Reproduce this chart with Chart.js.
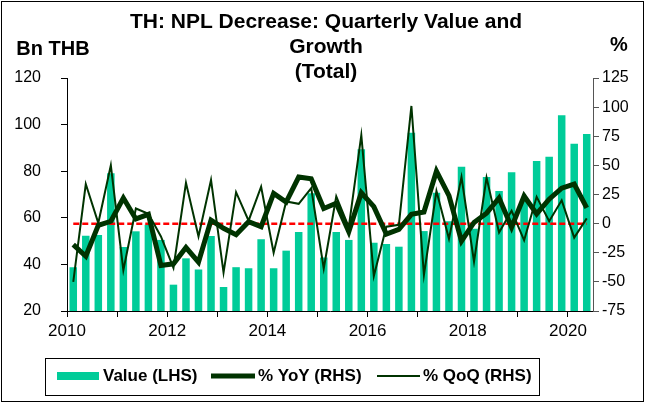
<!DOCTYPE html>
<html>
<head>
<meta charset="utf-8">
<script src="https://cdn.jsdelivr.net/npm/chart.js@4.4.1/dist/chart.umd.min.js"></script>
<style>
  html, body { margin: 0; padding: 0; background: #fff; }
  #wrap { width: 646px; height: 404px; }
</style>
</head>
<body>
<div id="wrap"><canvas id="chart" width="646" height="404"></canvas></div>
<script>
// quarterly data, 2010Q1 - 2020Q2
const quarters = [
  "2010Q1", "2010Q2", "2010Q3", "2010Q4", "2011Q1", "2011Q2", "2011Q3", "2011Q4",
  "2012Q1", "2012Q2", "2012Q3", "2012Q4", "2013Q1", "2013Q2", "2013Q3", "2013Q4",
  "2014Q1", "2014Q2", "2014Q3", "2014Q4", "2015Q1", "2015Q2", "2015Q3", "2015Q4",
  "2016Q1", "2016Q2", "2016Q3", "2016Q4", "2017Q1", "2017Q2", "2017Q3", "2017Q4",
  "2018Q1", "2018Q2", "2018Q3", "2018Q4", "2019Q1", "2019Q2", "2019Q3", "2019Q4",
  "2020Q1", "2020Q2"
];
const valueBn = [
  38.8, 52.3, 52.6, 79.1, 47.5, 54.2, 57.0, 50.5,
  31.3, 42.6, 37.8, 52.2, 30.3, 38.8, 38.3, 50.8,
  38.3, 45.9, 53.9, 70.5, 43.0, 53.9, 50.5, 89.4,
  49.3, 48.8, 47.6, 96.5, 54.3, 70.8, 58.5, 81.9,
  55.3, 77.5, 71.5, 79.5, 68.0, 84.4, 86.2, 104.0,
  91.8, 96.0
];
const yoyPct = [
  -18, -28, -1.5, 2, 22, 4, 8, -36,
  -34.5, -20.5, -33, 3, -4, -9.5, 1.7, -2.6,
  26, 18.5, 40, 38.5, 13, 17.5, -7, 26.5,
  14.6, -9, -5, 8, 10, 45, 24, -15,
  1, 9, 22, -3, 23.7, 8.3, 21, 30.5,
  34, 13.5
];
const qoqPct = [
  -50, 34, 0.5, 50, -40, 13, 8.5, -11,
  -38, 35, -11, 37.5, -42, 27, 2.5, 31.7,
  -25, 19, 17, 30.5, -38.5, 23.5, -3, 76,
  -45, -2.6, -1, 101, -44, 28, -13, 40,
  -32.6, 39.5, -7.7, 11, -14.3, 23, 2, 20,
  -12, 4.5
];
const yearLabels = ["2010", "2012", "2014", "2016", "2018", "2020"];
const seriesNames = ["Value (LHS)", "% YoY (RHS)", "% QoQ (RHS)"];
const titleLines = ["TH: NPL Decrease: Quarterly Value and", "Growth", "(Total)"];

const BAR = "#00cc99";
const DARK = "#003300";
const FONT = "'Liberation Sans', Arial, sans-serif";

// red dashed zero line + text, legend, frame
const decor = {
  id: "decor",
  afterDatasetDraw(chart, args) {
    if (args.index !== 0) return;
    const { ctx } = chart;
    const x = chart.scales.x, y1 = chart.scales.y1;
    const yz = y1.getPixelForValue(0);
    ctx.save();
    ctx.strokeStyle = "#ff0000";
    ctx.lineWidth = 2.5;
    ctx.setLineDash([6, 3]);
    ctx.beginPath();
    ctx.moveTo(x.getPixelForValue(0), yz);
    ctx.lineTo(x.getPixelForValue(quarters.length - 1), yz);
    ctx.stroke();
    ctx.restore();
  },
  afterDraw(chart) {
    const { ctx } = chart;
    ctx.save();
    ctx.fillStyle = "#000";
    ctx.textAlign = "center";
    ctx.textBaseline = "middle";
    ctx.font = "bold 21px " + FONT;
    const cx = (chart.chartArea.left + chart.chartArea.right) / 2;
    titleLines.forEach((t, i) => ctx.fillText(t, cx - 4, 22 + i * 25));

    ctx.font = "bold 20px " + FONT;
    ctx.fillText("Bn THB", 53, 49);
    ctx.fillText("%", 619, 45);

    // legend
    ctx.strokeStyle = "#000";
    ctx.lineWidth = 1;
    ctx.strokeRect(45.5, 358.5, 494, 37);
    const ly = 376;
    ctx.fillStyle = BAR;
    ctx.fillRect(57, ly - 4, 42, 8);
    ctx.strokeStyle = DARK;
    ctx.lineWidth = 5;
    ctx.beginPath(); ctx.moveTo(211, ly); ctx.lineTo(255, ly); ctx.stroke();
    ctx.lineWidth = 2;
    ctx.beginPath(); ctx.moveTo(377, ly); ctx.lineTo(420, ly); ctx.stroke();
    ctx.fillStyle = "#000";
    ctx.textAlign = "left";
    ctx.font = "bold 17px " + FONT;
    ctx.fillText(seriesNames[0], 103, ly);
    ctx.fillText(seriesNames[1], 258, ly);
    ctx.fillText(seriesNames[2], 423, ly);

    // outer frame
    ctx.strokeStyle = "#000";
    ctx.lineWidth = 1;
    ctx.strokeRect(1.5, 1.5, 642, 400);
    ctx.restore();
  }
};

new Chart(document.getElementById("chart"), {
  type: "bar",
  data: {
    labels: quarters,
    datasets: [
      {
        type: "bar",
        label: seriesNames[0],
        data: valueBn,
        yAxisID: "y",
        backgroundColor: BAR,
        barPercentage: 0.6,
        categoryPercentage: 1,
        order: 3
      },
      {
        type: "line",
        label: seriesNames[1],
        data: yoyPct,
        yAxisID: "y1",
        borderColor: DARK,
        borderWidth: 5,
        pointRadius: 0,
        tension: 0,
        order: 2
      },
      {
        type: "line",
        label: seriesNames[2],
        data: qoqPct,
        yAxisID: "y1",
        borderColor: DARK,
        borderWidth: 2,
        pointRadius: 0,
        tension: 0,
        order: 1
      }
    ]
  },
  options: {
    responsive: false,
    animation: false,
    devicePixelRatio: 1,
    layout: { padding: { top: 78, bottom: 63, left: 0, right: 0 } },
    plugins: {
      legend: { display: false },
      title: { display: false },
      tooltip: { enabled: false }
    },
    scales: {
      x: {
        offset: true,
        afterFit: (s) => { s.height = 30; },
        grid: {
          offset: true,
          drawOnChartArea: false,
          tickLength: 6,
          tickColor: (c) => (c.index % 4 === 0 ? "#000" : "rgba(0,0,0,0)")
        },
        border: { color: "#000", width: 1 },
        ticks: {
          autoSkip: false,
          maxRotation: 0,
          labelOffset: -6.26,
          padding: 4,
          color: "#000",
          font: { family: FONT, size: 17 },
          callback: (v, i) => {
            const q = quarters[i];
            return q.endsWith("Q1") && yearLabels.includes(q.slice(0, 4)) ? q.slice(0, 4) : "";
          }
        }
      },
      y: {
        position: "left",
        min: 20,
        max: 120,
        afterFit: (s) => { s.width = 67; },
        grid: { drawOnChartArea: false, tickLength: 6, tickColor: "#000" },
        border: { color: "#000", width: 1 },
        ticks: { stepSize: 20, padding: 20, color: "#000", font: { family: FONT, size: 16 } }
      },
      y1: {
        position: "right",
        min: -75,
        max: 125,
        afterFit: (s) => { s.width = 53; },
        grid: { drawOnChartArea: false, tickLength: 6, tickColor: "#555" },
        border: { color: "#555", width: 1 },
        ticks: { stepSize: 25, padding: 3, color: "#000", font: { family: FONT, size: 16 } }
      }
    }
  },
  plugins: [decor]
});
</script>
</body>
</html>
